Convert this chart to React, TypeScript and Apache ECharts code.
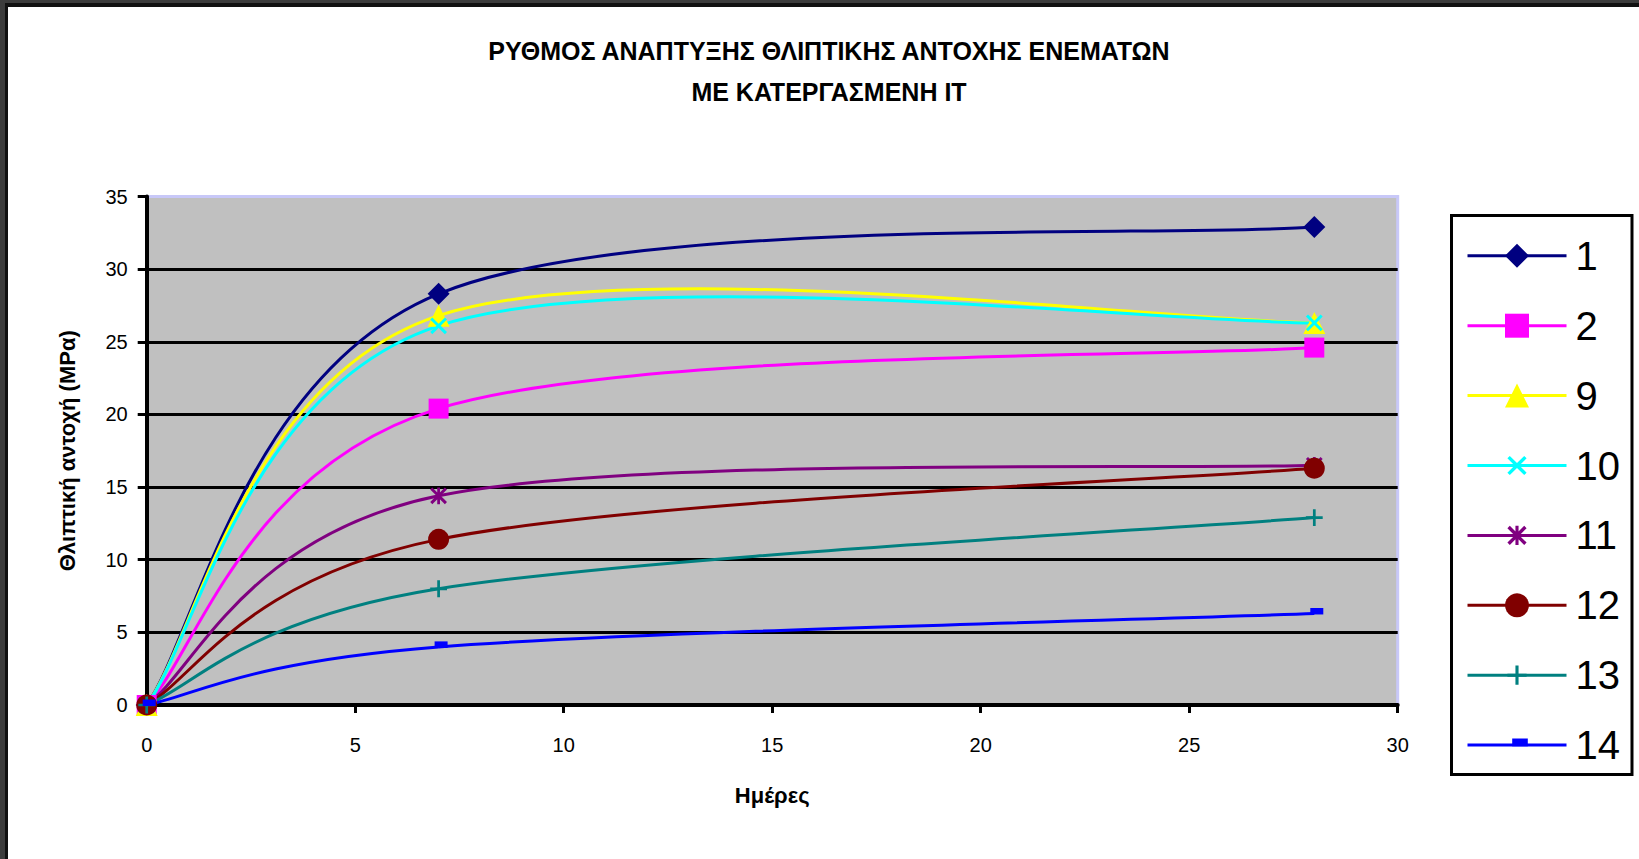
import { useEffect, useRef } from "react";
import * as echarts from "echarts";

// Curing age (days) at which each mix was tested
const days = [0, 7, 28];

// Mix identifiers shown in the legend
const mixNames = ["1", "2", "9", "10", "11", "12", "13", "14"];

// Compressive strength (MPa) at 0, 7 and 28 days
const mix1 = [0, 28.3, 32.9];
const mix2 = [0, 20.4, 24.6];
const mix9 = [0, 26.8, 26.3];
const mix10 = [0, 26.1, 26.3];
const mix11 = [0, 14.4, 16.5];
const mix12 = [0, 11.4, 16.3];
const mix13 = [0, 8.0, 12.9];
const mix14 = [0, 4.0, 6.3];

const strengths = [mix1, mix2, mix9, mix10, mix11, mix12, mix13, mix14];

const titleLines = [
  "ΡΥΘΜΟΣ ΑΝΑΠΤΥΞΗΣ ΘΛΙΠΤΙΚΗΣ ΑΝΤΟΧΗΣ ΕΝΕΜΑΤΩΝ",
  "ΜΕ ΚΑΤΕΡΓΑΣΜΕΝΗ ΙΤ",
];
const xAxisTitle = "Ημέρες";
const yAxisTitle = "Θλιπτική αντοχή (ΜΡα)";

const colors = [
  "#000080",
  "#ff00ff",
  "#ffff00",
  "#00ffff",
  "#800080",
  "#800000",
  "#008080",
  "#0000ff",
];

// Marker shapes; the leading moves pin a 20x20 box so smaller glyphs keep their size/offset
const X_MARK =
  "M0,0M20,20M2,4L4,2L10,8L16,2L18,4L12,10L18,16L16,18L10,12L4,18L2,16L8,10Z";
const symbols = [
  "diamond",
  "rect",
  "triangle",
  "path://" + X_MARK,
  "path://" + X_MARK + "M8.7,2H11.3V18H8.7Z",
  "circle",
  "path://M0,0M20,20M8.7,2H11.3V8.7H18V11.3H11.3V18H8.7V11.3H2V8.7H8.7Z",
  "path://M0,0M20,20M6,4.5H19V11H6Z",
];
const symbolSizes = [22, 20, 22, 21, 21, 21, 21, 20];

const FONT = "'Liberation Sans', Arial, sans-serif";
const PLOT_BORDER = "#c8c8f8";

export default function App() {
  const ref = useRef<HTMLDivElement>(null);

  useEffect(() => {
    if (!ref.current) return;
    const chart = echarts.init(ref.current, undefined, { renderer: "svg" });

    const markerSeries = strengths.map((vals, si) => ({
      type: "line",
      name: mixNames[si],
      z: 3,
      data: days.map((d, i) => [d, vals[i]]),
      symbol: symbols[si],
      symbolSize: symbolSizes[si],
      showSymbol: true,
      showAllSymbol: true,
      lineStyle: { color: colors[si], width: 3, opacity: 0 },
      itemStyle: { color: colors[si], borderWidth: 0 },
      emphasis: { disabled: true },
      silent: true,
    }));

    // Smoothed curves: cubic Bézier segments with tangents (P[i+1] - P[i-1]) / 6
    const curveSeries = strengths.map((vals, si) => ({
      type: "custom",
      name: mixNames[si],
      z: 2,
      silent: true,
      data: days.map((d, i) => [d, vals[i]]),
      encode: { x: 0, y: 1 },
      renderItem: (params: any, api: any) => {
        const i = params.dataIndex;
        if (i >= days.length - 1) return null;
        const pt = (k: number) => [days[k], vals[k]];
        const a = pt(Math.max(i - 1, 0));
        const p0 = pt(i);
        const p1 = pt(i + 1);
        const b = pt(Math.min(i + 2, days.length - 1));
        const c0 = [p0[0] + (p1[0] - a[0]) / 6, p0[1] + (p1[1] - a[1]) / 6];
        const c1 = [p1[0] - (b[0] - p0[0]) / 6, p1[1] - (b[1] - p0[1]) / 6];
        const s = api.coord(p0);
        const e = api.coord(p1);
        const k0 = api.coord(c0);
        const k1 = api.coord(c1);
        return {
          type: "bezierCurve",
          shape: {
            x1: s[0],
            y1: s[1],
            x2: e[0],
            y2: e[1],
            cpx1: k0[0],
            cpy1: k0[1],
            cpx2: k1[0],
            cpy2: k1[1],
          },
          style: { stroke: colors[si], lineWidth: 3, fill: null },
        };
      },
    }));

    chart.setOption({
      animation: false,
      backgroundColor: "#ffffff",
      textStyle: { fontFamily: FONT },
      title: {
        text: titleLines.join("\n"),
        left: 829,
        top: 30,
        padding: 0,
        textAlign: "center",
        textStyle: {
          fontFamily: FONT,
          fontSize: 25,
          fontWeight: "bold",
          color: "#000",
          lineHeight: 41,
        },
      },
      grid: {
        left: 146.7,
        top: 196.5,
        width: 1251,
        height: 508.5,
        show: true,
        backgroundColor: "#c0c0c0",
        borderColor: PLOT_BORDER,
        borderWidth: 3,
      },
      xAxis: {
        type: "value",
        min: 0,
        max: 30,
        interval: 5,
        name: xAxisTitle,
        nameLocation: "middle",
        nameGap: 79,
        nameTextStyle: {
          fontFamily: FONT,
          fontSize: 22,
          fontWeight: "bold",
          color: "#000",
        },
        axisLine: { show: true, onZero: false, lineStyle: { color: "#000", width: 4 } },
        axisTick: { show: true, length: 8, lineStyle: { color: "#000", width: 3 } },
        axisLabel: { fontFamily: FONT, fontSize: 20, color: "#000", margin: 30 },
        splitLine: { show: false },
      },
      yAxis: {
        type: "value",
        min: 0,
        max: 35,
        interval: 5,
        name: yAxisTitle,
        nameLocation: "middle",
        nameRotate: 90,
        nameGap: 68,
        nameTextStyle: {
          fontFamily: FONT,
          fontSize: 22,
          fontWeight: "bold",
          color: "#000",
        },
        axisLine: { show: true, lineStyle: { color: "#000", width: 4 } },
        axisTick: { show: true, length: 9, lineStyle: { color: "#000", width: 3 } },
        axisLabel: { fontFamily: FONT, fontSize: 20, color: "#000", margin: 19 },
        splitLine: {
          show: true,
          lineStyle: {
            color: ["#000", "#000", "#000", "#000", "#000", "#000", "#000", PLOT_BORDER],
            width: 3,
          },
        },
      },
      legend: {
        orient: "vertical",
        left: 1451.5,
        top: 215.5,
        padding: [20.3, 12, 9.5, 14.5],
        itemWidth: 99,
        itemHeight: 30,
        itemGap: 29.9,
        borderColor: "#000",
        borderWidth: 3,
        backgroundColor: "#ffffff",
        selectedMode: false,
        lineStyle: { width: 3, opacity: 1 },
        textStyle: {
          fontFamily: FONT,
          fontSize: 40,
          lineHeight: 38,
          color: "#000",
          padding: [0, 0, 0, 4],
        },
        data: mixNames.map((n, i) => ({
          name: n,
          lineStyle: { color: colors[i], width: 3, opacity: 1 },
          itemStyle: { color: colors[i], opacity: 1 },
        })),
      },
      graphic: [
        { type: "rect", shape: { x: 0, y: 0, width: 1639, height: 3 }, style: { fill: "#3c3c3c" }, z: 100 },
        { type: "rect", shape: { x: 0, y: 0, width: 5, height: 859 }, style: { fill: "#3c3c3c" }, z: 100 },
        { type: "rect", shape: { x: 5, y: 3, width: 1634, height: 4 }, style: { fill: "#111111" }, z: 100 },
        { type: "rect", shape: { x: 5, y: 3, width: 3, height: 856 }, style: { fill: "#111111" }, z: 100 },
      ],
      series: [...markerSeries, ...curveSeries],
    });

    return () => chart.dispose();
  }, []);

  return (
    <div
      ref={ref}
      style={{ position: "fixed", left: 0, top: 0, width: 1639, height: 859 }}
    />
  );
}
